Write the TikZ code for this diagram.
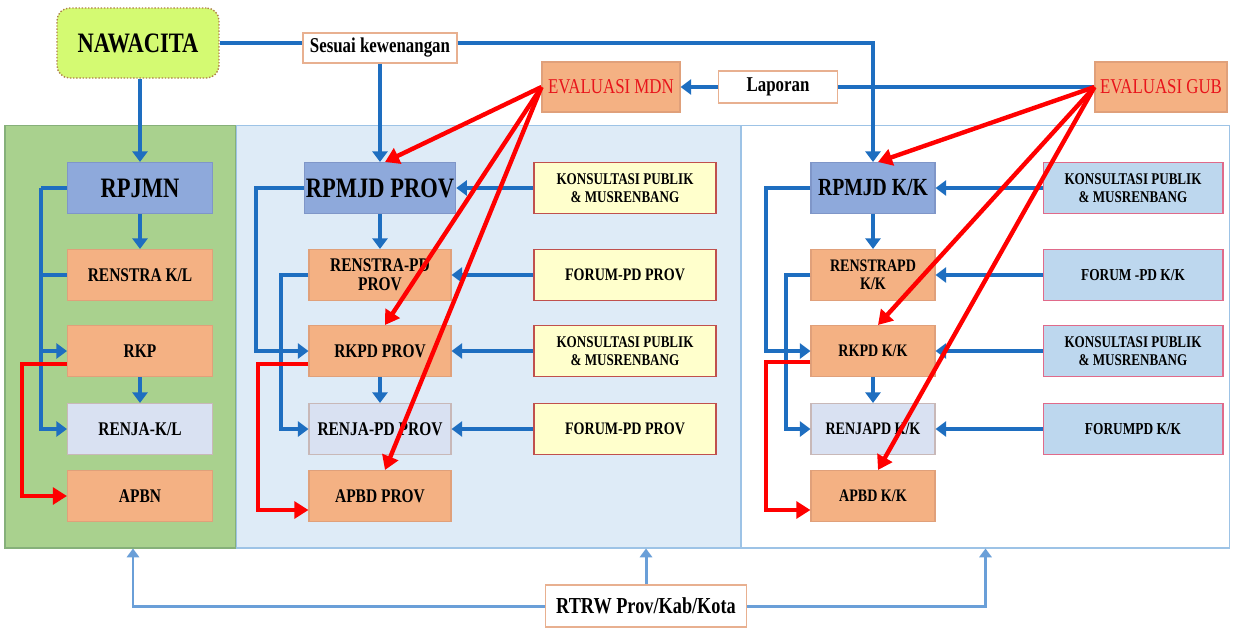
\documentclass[tikz,border=0pt]{standalone}
\usepackage{fontspec}
\setmainfont{Liberation Serif}[FakeStretch=0.8]
\usetikzlibrary{arrows.meta}

\definecolor{lineblue}{HTML}{1E6EC0}
\definecolor{rtrwblue}{HTML}{6A9FD8}
\definecolor{greenpanel}{HTML}{A9D18E}
\definecolor{greenline}{HTML}{86B07A}
\definecolor{bluepanel}{HTML}{DEEBF7}
\definecolor{panelline}{HTML}{9DC3E6}
\definecolor{salmonfill}{HTML}{F4B183}
\definecolor{salmonline}{HTML}{E0A07A}
\definecolor{lilacfill}{HTML}{D9E1F2}
\definecolor{lilacline}{HTML}{C8B8B8}
\definecolor{topfill}{HTML}{8EA9DB}
\definecolor{topline}{HTML}{7F96C8}
\definecolor{creamfill}{HTML}{FFFFCC}
\definecolor{creamline}{HTML}{C0504D}
\definecolor{skyfill}{HTML}{BDD7EE}
\definecolor{skyline}{HTML}{E06A8A}
\definecolor{limefill}{HTML}{D4FA72}
\definecolor{limeline}{HTML}{B0804A}
\definecolor{evalred}{HTML}{E8141B}
\definecolor{noteline}{HTML}{E8B090}

\begin{document}
\begin{tikzpicture}[x=0.02cm,y=-0.02cm,
  bus/.style={draw=lineblue, line width=2.6pt},
  bl/.style={bus, -{Triangle[length=6pt,width=8.5pt]}},
  rd/.style={draw=red, line width=2.5pt, -{Triangle[length=8pt,width=9.5pt]}},
  tr/.style={draw=rtrwblue, line width=1.7pt, -{Triangle[length=5pt,width=7pt]}},
  panel/.style={draw=panelline, line width=0.6pt, inner sep=0pt, minimum height=8.46cm},
  box/.style={draw, line width=0.6pt, inner sep=1pt, align=center, minimum height=1.02cm,
    font=\bfseries\fontsize{11}{11}\selectfont},
  salmon/.style={box, fill=salmonfill, draw=salmonline},
  lilac/.style={box, fill=lilacfill, draw=lilacline},
  topbox/.style={box, fill=topfill, draw=topline, font=\bfseries\fontsize{16}{16}\selectfont},
  cream/.style={box, fill=creamfill, draw=creamline, minimum width=3.64cm},
  sky/.style={box, fill=skyfill, draw=skyline, minimum width=3.6cm},
  evalbox/.style={box, fill=salmonfill, draw=salmonline, minimum height=1cm, text=evalred,
    font=\fontsize{12}{12}\selectfont},
  note/.style={draw=noteline, fill=white, line width=0.6pt, inner sep=1pt,
    font=\bfseries\fontsize{12}{12}\selectfont}]

\useasboundingbox (0,0) rectangle (1241,627);

\node[panel, fill=greenpanel, draw=greenline, minimum width=4.62cm] (pnas) at (120.5,336.5) {};
\node[panel, fill=bluepanel, minimum width=10.1cm] (pprov) at (488.5,336.5) {};
\node[panel, fill=white, minimum width=9.78cm] (pkk) at (985.5,336.5) {};

\node[draw=limeline, fill=limefill, line width=0.8pt, densely dotted, rounded corners=0.25cm, minimum width=3.24cm,
  minimum height=1.4cm, font=\bfseries\fontsize{16}{16}\selectfont] (nawacita) at (138,43) {NAWACITA};
\node[note, minimum width=3.08cm, minimum height=0.6cm] (sesuai) at (380,48) {Sesuai kewenangan};
\node[evalbox, minimum width=2.76cm] (evalmdn) at (611,87) {EVALUASI MDN};
\node[note, minimum width=2.38cm, minimum height=0.64cm] (laporan) at (778,87) {Laporan};
\node[evalbox, minimum width=2.64cm] (evalgub) at (1161,87) {EVALUASI GUB};

\node[topbox, minimum width=2.9cm] (rpjmn) at (140,188) {RPJMN};
\node[salmon, minimum width=2.9cm] (renstrakl) at (140,275) {RENSTRA K/L};
\node[salmon, minimum width=2.9cm] (rkp) at (140,351) {RKP};
\node[lilac, minimum width=2.9cm] (renjakl) at (140,429) {RENJA-K/L};
\node[salmon, minimum width=2.9cm] (apbn) at (140,496) {APBN};

\node[topbox, minimum width=2.84cm] (rpmjdp) at (380,188) {RPMJD PROV};
\node[salmon, minimum width=2.84cm] (renstrap) at (380,275) {RENSTRA-PD\\PROV};
\node[salmon, minimum width=2.84cm] (rkpdp) at (380,351) {RKPD PROV};
\node[lilac, minimum width=2.84cm] (renjap) at (380,429) {RENJA-PD PROV};
\node[salmon, minimum width=2.84cm] (apbdp) at (380,496) {APBD PROV};

\node[cream, font=\bfseries\fontsize{9.3}{10}\selectfont] (kp1) at (625,188) {KONSULTASI PUBLIK\\\& MUSRENBANG};
\node[cream, font=\bfseries\fontsize{10}{10}\selectfont] (fp1) at (625,275) {FORUM-PD PROV};
\node[cream, font=\bfseries\fontsize{9.3}{10}\selectfont] (kp2) at (625,351) {KONSULTASI PUBLIK\\\& MUSRENBANG};
\node[cream, font=\bfseries\fontsize{10}{10}\selectfont] (fp2) at (625,429) {FORUM-PD PROV};

\node[topbox, minimum width=2.48cm, font=\bfseries\fontsize{14}{14}\selectfont] (rpmjdkk) at (873,188) {RPMJD K/K};
\node[salmon, minimum width=2.48cm, font=\bfseries\fontsize{10}{10}\selectfont] (renstrakk) at (873,275) {RENSTRAPD\\K/K};
\node[salmon, minimum width=2.48cm, font=\bfseries\fontsize{10}{10}\selectfont] (rkpdkk) at (873,351) {RKPD K/K};
\node[lilac, minimum width=2.48cm, font=\bfseries\fontsize{10}{10}\selectfont] (renjakk) at (873,429) {RENJAPD K/K};
\node[salmon, minimum width=2.48cm, font=\bfseries\fontsize{10}{10}\selectfont] (apbdkk) at (873,496) {APBD K/K};

\node[sky, font=\bfseries\fontsize{9.3}{10}\selectfont] (kk1) at (1133,188) {KONSULTASI PUBLIK\\\& MUSRENBANG};
\node[sky, font=\bfseries\fontsize{9.5}{10}\selectfont] (fk1) at (1133,275) {FORUM -PD K/K};
\node[sky, font=\bfseries\fontsize{9.3}{10}\selectfont] (kk2) at (1133,351) {KONSULTASI PUBLIK\\\& MUSRENBANG};
\node[sky, font=\bfseries\fontsize{9.5}{10}\selectfont] (fk2) at (1133,429) {FORUMPD K/K};

\node[note, minimum width=4.02cm, minimum height=0.84cm, font=\bfseries\fontsize{13}{13}\selectfont] (rtrw) at (646,606) {RTRW Prov/Kab/Kota};

\coordinate (busn) at (41,188);
\coordinate (busp) at (256,188);
\coordinate (busq) at (281,275);
\coordinate (busk) at (766,188);
\coordinate (busl) at (786,275);
\coordinate (redn) at (22,364);
\coordinate (redp) at (258,364);
\coordinate (redk) at (766,362);

% arahan
\draw[bl] (rpjmn |- nawacita.south) -- (rpjmn.north);
\draw[bus] (nawacita.east) -- (nawacita.east -| sesuai.west);
\draw[bl] (sesuai.east |- nawacita.east) -| (rpmjdkk.north);
\draw[bl] (sesuai) -- (rpmjdp);
\draw[bus] (evalgub.west) -- (laporan.east);
\draw[bl] (laporan.west) -- (evalmdn.east);

\foreach \s/\t in {rpjmn/renstrakl, rkp/renjakl, rpmjdp/renstrap, rkpdp/renjap, rpmjdkk/renstrakk, rkpdkk/renjakk}
  \draw[bl] (\s) -- (\t);

\foreach \s/\t in {kp1/rpmjdp, fp1/renstrap, kp2/rkpdp, fp2/renjap, kk1/rpmjdkk, fk1/renstrakk, kk2/rkpdkk, fk2/renjakk}
  \draw[bl] (\s) -- (\t);

\draw[bus] (rpjmn.west) -- (busn);
\draw[bl] (busn) |- (renjakl.west);
\draw[bus] (renstrakl.west) -- (renstrakl.west -| busn);
\draw[bl] (rkp.west -| busn) -- (rkp.west);

\draw[bl] (rpmjdp.west) -- (busp) |- (rkpdp.west);
\draw[bl] (renstrap.west) -- (busq) |- (renjap.west);
\draw[bl] (rpmjdkk.west) -- (busk) |- (rkpdkk.west);
\draw[bl] (renstrakk.west) -- (busl) |- (renjakk.west);

% anggaran
\draw[rd] (redn -| rkp.west) -- (redn) |- (apbn.west);
\draw[rd] (redp -| rkpdp.west) -- (redp) |- ([yshift=-0.28cm]apbdp.west);
\draw[rd] (redk -| rkpdkk.west) -- (redk) |- ([yshift=-0.28cm]apbdkk.west);

% evaluasi
\foreach \t in {rpmjdp, rkpdp, apbdp}
  \draw[rd] (evalmdn.west) -- ([xshift=0.1cm]\t.north);
\foreach \t in {rpmjdkk, rkpdkk, apbdkk}
  \draw[rd] (evalgub.west) -- ([xshift=0.1cm]\t.north);

\draw[tr] (rtrw.north) -- (rtrw.north |- pprov.south);
\draw[tr] (rtrw.west) -| ([xshift=0.25cm]pnas.south);
\draw[tr] (rtrw.east) -| (pkk.south);
\end{tikzpicture}
\end{document}
